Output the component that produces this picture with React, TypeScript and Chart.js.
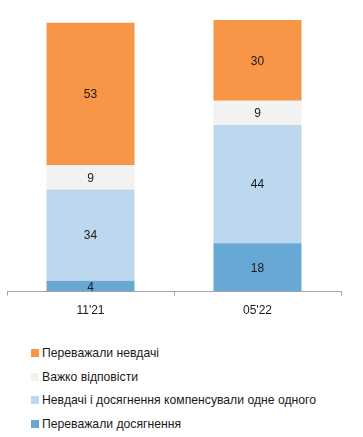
import React, { useEffect, useRef } from "react";
import { Chart, registerables } from "chart.js";

Chart.register(...registerables);

const categories = ["11'21", "05'22"];
const seriesNames = [
  "Переважали досягнення",
  "Невдачі і досягнення компенсували одне одного",
  "Важко відповісти",
  "Переважали невдачі",
];
const achievements = [4, 18];
const balanced = [34, 44];
const hardToSay = [9, 9];
const failures = [53, 30];
const seriesColors = ["#67A9D4", "#BDD7EE", "#F2F2F2", "#F79646"];
const legendOrder = [3, 2, 1, 0];

const FONT = "'Liberation Sans', Arial, sans-serif";

const valueLabels = {
  id: "valueLabels",
  afterDatasetsDraw(chart: any) {
    const ctx = chart.ctx;
    ctx.save();
    ctx.font = `12px ${FONT}`;
    ctx.fillStyle = "#1a1a1a";
    ctx.textAlign = "center";
    ctx.textBaseline = "middle";
    chart.data.datasets.forEach((ds: any, i: number) => {
      const meta = chart.getDatasetMeta(i);
      meta.data.forEach((bar: any, j: number) => {
        const v = ds.data[j];
        const p = bar.getProps(["x", "y", "base"], true);
        ctx.fillText(String(v), p.x, (p.y + p.base) / 2 + 1);
      });
    });
    ctx.restore();
  },
};

export default function App() {
  const ref = useRef<HTMLCanvasElement>(null);
  useEffect(() => {
    document.body.style.margin = "0";
    const all = [achievements, balanced, hardToSay, failures];
    const chart = new Chart(ref.current!, {
      type: "bar",
      data: {
        labels: categories,
        datasets: all.map((d, i) => ({
          label: seriesNames[i],
          data: d,
          backgroundColor: seriesColors[i],
          borderWidth: 0,
          barPercentage: 1,
          categoryPercentage: 0.527,
        })),
      },
      options: {
        animation: false,
        responsive: false,
        maintainAspectRatio: false,
        layout: { padding: { left: 7, right: 22, top: 20, bottom: 4 } },
        plugins: { legend: { display: false }, tooltip: { enabled: false } },
        scales: {
          x: {
            stacked: true,
            grid: {
              offset: true,
              drawOnChartArea: false,
              drawTicks: true,
              tickLength: 4,
              color: "#A6A6A6",
            },
            border: { display: true, color: "#A6A6A6" },
            ticks: {
              color: "#1a1a1a",
              font: { family: FONT, size: 12 },
              padding: 8,
            },
          },
          y: { stacked: true, display: false, min: 0, max: 101 },
        },
      },
      plugins: [valueLabels],
    });
    return () => chart.destroy();
  }, []);

  return (
    <div style={{ position: "relative", width: 363, height: 437, background: "#fff" }}>
      <canvas ref={ref} width={363} height={330} style={{ position: "absolute", left: 0, top: 0 }} />
      <div style={{ position: "absolute", left: 31, top: 341, fontFamily: FONT, fontSize: 12.2, color: "#1a1a1a" }}>
        {legendOrder.map((i) => (
          <div key={i} style={{ display: "flex", alignItems: "center", height: 23.7 }}>
            <span style={{ width: 8, height: 8, background: seriesColors[i], marginRight: 3, display: "inline-block" }} />
            <span>{seriesNames[i]}</span>
          </div>
        ))}
      </div>
    </div>
  );
}
